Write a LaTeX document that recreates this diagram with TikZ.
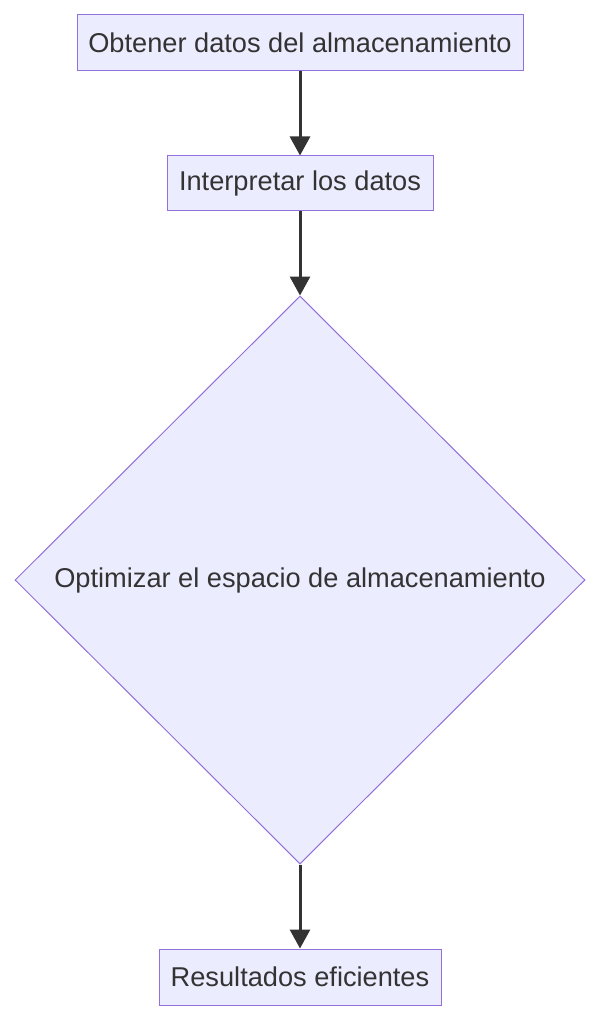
\documentclass[tikz,border=0pt]{standalone}
\usepackage{fontspec}
\setmainfont{Liberation Sans}
\usetikzlibrary{shapes.geometric,arrows.meta}
\definecolor{mfill}{HTML}{ECECFF}
\definecolor{mstroke}{HTML}{9370DB}
\definecolor{mtext}{HTML}{333333}
\tikzset{
  procbox/.style={draw=mstroke, fill=mfill, line width=1pt, text=mtext, font=\fontsize{27.2}{30}\selectfont, inner sep=0pt, minimum height=56pt, rectangle},
  decbox/.style={draw=mstroke, fill=mfill, line width=1pt, text=mtext, font=\fontsize{27.2}{30}\selectfont, diamond, inner sep=0pt, minimum width=570pt, minimum height=568pt},
  flow/.style={draw=mtext, line width=3pt, -{Triangle[length=19pt,width=20pt]}}
}
\begin{document}
\begin{tikzpicture}[x=1pt,y=-1pt]
\useasboundingbox (0,0) rectangle (601,1024);
\node[procbox, minimum width=446pt] (a) at (300,43) {Obtener datos del almacenamiento};
\node[procbox, minimum width=266pt, minimum height=55pt] (b) at (300,183.5) {Interpretar los datos};
\node[decbox] (c) at (300,580) {Optimizar el espacio de almacenamiento};
\node[procbox, minimum width=282pt] (d) at (300,977) {Resultados eficientes};
\draw[flow] (a.south) -- (b.north);
\draw[flow] (b.south) -- (c.north);
\draw[flow] (c.south) -- (d.north);
\end{tikzpicture}
\end{document}
